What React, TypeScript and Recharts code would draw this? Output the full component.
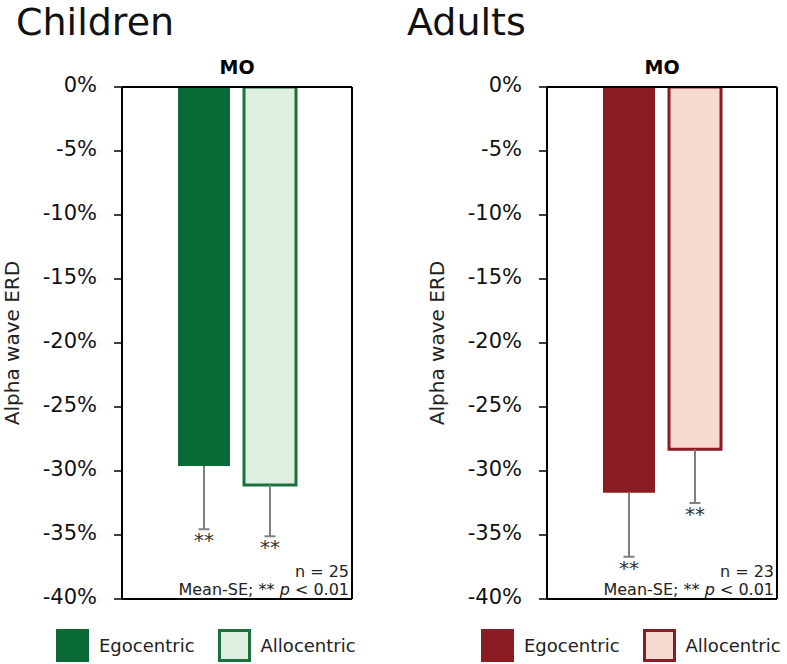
import React from 'react';
import { BarChart, Bar, XAxis, YAxis, Legend } from 'recharts';

// ---------- data ----------
const categories = ['MO'];
const seriesNames = ['Egocentric', 'Allocentric'];
const yTicks = [0, -5, -10, -15, -20, -25, -30, -35, -40];
const panelTitles = ['Children', 'Adults'];
const sampleSizes = [25, 23];

const childrenEgo = [-29.6];
const childrenEgoSE = [4.95];
const childrenAllo = [-31.1];
const childrenAlloSE = [4.0];

const adultsEgo = [-31.7];
const adultsEgoSE = [5.0];
const adultsAllo = [-28.3];
const adultsAlloSE = [4.2];

const frameBaseline = [0];
const sigMark = '**';
const yAxisTitle = 'Alpha wave ERD';
const noteText = 'Mean-SE; ** ';

// ---------- styles ----------
const FONT = '"DejaVu Sans", Verdana, sans-serif';
const greenTheme = { egoFill: '#0b6b36', alloFill: '#deeedf', alloStroke: '#1b713e' };
const redTheme = { egoFill: '#8b1c24', alloFill: '#f6d9d0', alloStroke: '#8b1c24' };

const makeErrLabel = (values: number[], ses: number[]) => (props: any) => {
  const vb = props.viewBox || {};
  const x = Number(vb.x ?? props.x);
  const y = Number(vb.y ?? props.y);
  const w = Number(vb.width ?? props.width);
  const h = Number(vb.height ?? props.height);
  const idx = props.index ?? 0;
  const v = values[idx];
  const se = ses[idx];
  if (![x, y, w, h].every(Number.isFinite) || !v) return null;
  const bottom = Math.max(y, y + h);
  const ppu = Math.abs(h) / Math.abs(v);
  const end = bottom + se * ppu;
  const cx = x + w / 2;
  return (
    <g key={`err-${idx}`}>
      <line x1={cx} x2={cx} y1={bottom} y2={end} stroke="#808080" strokeWidth={2} />
      <line x1={cx - 5.5} x2={cx + 5.5} y1={end} y2={end} stroke="#808080" strokeWidth={2} />
      <text x={cx} y={end + 18} textAnchor="middle" fontSize={20} fontFamily={FONT} fill="#333">
        {sigMark}
      </text>
    </g>
  );
};

const LegendBox = ({ theme }: { theme: typeof greenTheme }) => (
  <div style={{ display: 'flex', alignItems: 'center', fontFamily: FONT, fontSize: 18, color: '#222', whiteSpace: 'nowrap' }}>
    {seriesNames.map((name, i) => (
      <div key={name} style={{ display: 'flex', alignItems: 'center', marginRight: 23 }}>
        <div
          style={{
            width: 33,
            height: 33,
            boxSizing: 'border-box',
            background: i === 0 ? theme.egoFill : theme.alloFill,
            border: i === 0 ? 'none' : `3px solid ${theme.alloStroke}`,
            marginRight: 10,
          }}
        />
        <span>{name}</span>
      </div>
    ))}
  </div>
);

interface PanelProps {
  ego: number[];
  egoSE: number[];
  allo: number[];
  alloSE: number[];
  n: number;
  theme: typeof greenTheme;
}

const Panel = ({ ego, egoSE, allo, alloSE, n, theme }: PanelProps) => {
  const data = categories.map((c, i) => ({ cat: c, ego: ego[i], allo: allo[i], frame: frameBaseline[i] }));
  return (
    <BarChart
      width={362}
      height={664}
      data={data}
      margin={{ top: 0, right: 9, bottom: 64, left: 0 }}
      barGap={14}
    >
      <XAxis
        xAxisId="top"
        orientation="top"
        dataKey="cat"
        height={87}
        tickLine={false}
        tickSize={0}
        tickMargin={13}
        axisLine={{ stroke: '#000', strokeWidth: 2 }}
        tick={{ fontSize: 19, fontWeight: 'bold', fill: '#000', fontFamily: FONT }}
      />
      <XAxis
        xAxisId="bottom"
        orientation="bottom"
        dataKey="cat"
        height={1}
        tick={false}
        tickLine={false}
        axisLine={{ stroke: '#000', strokeWidth: 2 }}
        label={(p: any) => {
          const vb = p.viewBox || { x: 122, y: 599, width: 230 };
          const rx = vb.x + vb.width - 3;
          return (
            <g fontFamily={FONT} fontSize={16} fill="#222">
              <text x={rx} y={vb.y - 22} textAnchor="end">{`n = ${n}`}</text>
              <text x={rx} y={vb.y - 4} textAnchor="end">
                {noteText}
                <tspan fontStyle="italic">p</tspan>
                {' < 0.01'}
              </text>
            </g>
          );
        }}
      />
      <YAxis
        yAxisId="left"
        type="number"
        domain={[-40, 0]}
        ticks={yTicks}
        interval={0}
        allowDataOverflow
        width={122}
        tickSize={8}
        tickMargin={17}
        tickFormatter={(v: number) => `${v}%`}
        tick={{ fontSize: 21, fill: '#111', fontFamily: FONT, dy: -2 }}
        axisLine={{ stroke: '#000', strokeWidth: 2 }}
        tickLine={{ stroke: '#000', strokeWidth: 1.5 }}
        label={(p: any) => {
          const vb = p.viewBox || { x: 0, y: 87, width: 122, height: 512 };
          const cx = vb.x + 12;
          const cy = vb.y + vb.height / 2;
          return (
            <text
              x={cx}
              y={cy}
              transform={`rotate(-90, ${cx}, ${cy})`}
              textAnchor="middle"
              dominantBaseline="central"
              fontSize={20}
              fontFamily={FONT}
              fill="#222"
            >
              {yAxisTitle}
            </text>
          );
        }}
      />
      <YAxis
        yAxisId="right"
        orientation="right"
        type="number"
        domain={[-40, 0]}
        allowDataOverflow
        width={1}
        tick={false}
        tickLine={false}
        axisLine={{ stroke: '#000', strokeWidth: 2 }}
      />
      <Legend
        layout="vertical"
        align="center"
        verticalAlign="middle"
        wrapperStyle={{ left: 56, top: 629, width: 320, height: 33 }}
        content={() => <LegendBox theme={theme} />}
      />
      <Bar
        xAxisId="bottom"
        yAxisId="right"
        dataKey="frame"
        fill="none"
        stroke="none"
        legendType="none"
        isAnimationActive={false}
      />
      <Bar
        xAxisId="top"
        yAxisId="left"
        dataKey="ego"
        name={seriesNames[0]}
        fill={theme.egoFill}
        barSize={52}
        isAnimationActive={false}
        label={makeErrLabel(ego, egoSE)}
      />
      <Bar
        xAxisId="top"
        yAxisId="left"
        dataKey="allo"
        name={seriesNames[1]}
        fill={theme.alloFill}
        stroke={theme.alloStroke}
        strokeWidth={3}
        barSize={52}
        isAnimationActive={false}
        label={makeErrLabel(allo, alloSE)}
      />
    </BarChart>
  );
};

const titleStyle: React.CSSProperties = {
  position: 'absolute',
  top: 3,
  fontFamily: FONT,
  fontSize: 38,
  lineHeight: '38px',
  color: '#111',
  whiteSpace: 'nowrap',
};

export default function App() {
  return (
    <div style={{ position: 'absolute', left: 0, top: 0, width: 787, height: 664, background: '#fff', overflow: 'hidden' }}>
      <div style={{ position: 'absolute', left: 0, top: 0 }}>
        <Panel ego={childrenEgo} egoSE={childrenEgoSE} allo={childrenAllo} alloSE={childrenAlloSE} n={sampleSizes[0]} theme={greenTheme} />
      </div>
      <div style={{ position: 'absolute', left: 425, top: 0 }}>
        <Panel ego={adultsEgo} egoSE={adultsEgoSE} allo={adultsAllo} alloSE={adultsAlloSE} n={sampleSizes[1]} theme={redTheme} />
      </div>
      <div style={{ ...titleStyle, left: 16 }}>{panelTitles[0]}</div>
      <div style={{ ...titleStyle, left: 407 }}>{panelTitles[1]}</div>
    </div>
  );
}
